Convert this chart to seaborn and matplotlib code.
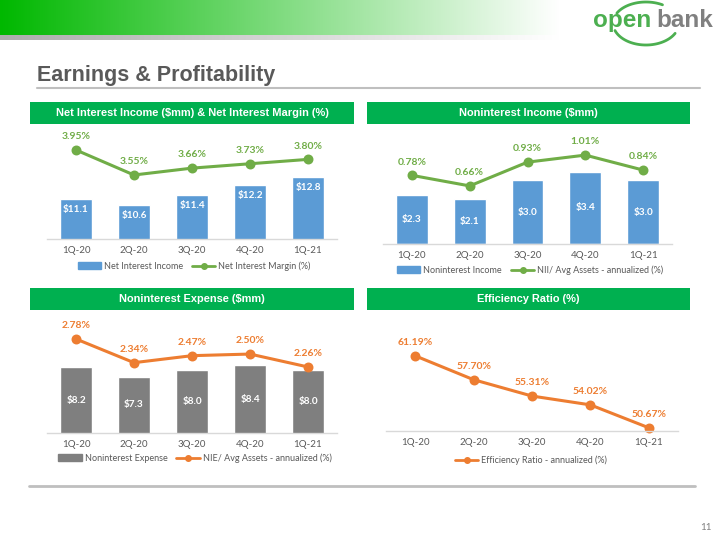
# ==========================================
# EARNINGS & PROFITABILITY SLIDE
# ==========================================

import numpy as np
import matplotlib.pyplot as plt
import seaborn as sns
from matplotlib.patches import Rectangle, Patch
from matplotlib.lines import Line2D
from matplotlib.colors import to_rgb

# ==========================================
# DATA
# ==========================================

quarters = ['1Q-20', '2Q-20', '3Q-20', '4Q-20', '1Q-21']

net_interest_income = [11.1, 10.6, 11.4, 12.2, 12.8]
net_interest_margin = [3.95, 3.55, 3.66, 3.73, 3.80]

noninterest_income = [2.3, 2.1, 3.0, 3.4, 3.0]
nii_avg_assets = [0.78, 0.66, 0.93, 1.01, 0.84]

noninterest_expense = [8.2, 7.3, 8.0, 8.4, 8.0]
nie_avg_assets = [2.78, 2.34, 2.47, 2.50, 2.26]

efficiency_ratio = [61.19, 57.70, 55.31, 54.02, 50.67]

# ==========================================
# STYLE
# ==========================================

sns.set_theme(style='white')
plt.rcParams['font.family'] = ['Lato', 'DejaVu Sans']

BLUE = '#5B9BD5'
GREEN = '#70AD47'
GRAY = '#7F7F7F'
ORANGE = '#ED7D31'
HEADER = '#00B050'
TEXT = '#595959'
LOGO_GREEN = '#4CAF50'

W, H = 720, 540

fig = plt.figure(figsize=(7.2, 5.4), dpi=100)


def box(x0, y0, x1, y1):
    # pixel box (top-left origin) -> figure rect
    return [x0 / W, 1 - y1 / H, (x1 - x0) / W, (y1 - y0) / H]


def fx(x):
    return x / W


def fy(y):
    return 1 - y / H


# ==========================================
# SLIDE DECORATION
# ==========================================

# green gradient banner
grad = np.linspace(0, 1, 256)
green = np.array(to_rgb('#00B800'))
banner = green[None, :] * (1 - grad[:, None]) + grad[:, None]
ax_band = fig.add_axes(box(0, 0, 560, 35))
ax_band.imshow(banner[None, :, :], aspect='auto')
ax_band.axis('off')

gray = np.array(to_rgb('#ADADAD'))
strip = gray[None, :] * (1 - grad[:, None]) + grad[:, None]
ax_strip = fig.add_axes(box(0, 35, 560, 40))
ax_strip.imshow(strip[None, :, :], aspect='auto')
ax_strip.axis('off')

# logo, drawn in pixel coords (y axis inverted)
logo_ax = fig.add_axes(box(585, 0, 720, 52))
logo_ax.set_xlim(585, 720)
logo_ax.set_ylim(52, 0)
logo_ax.axis('off')
t_top = np.radians(np.linspace(60, 152, 40))
t_bot = np.radians(np.linspace(200, 332, 50))
logo_ax.plot(646 + 33 * np.cos(t_top), 23 - 21 * np.sin(t_top),
             color=LOGO_GREEN, lw=2, solid_capstyle='round', clip_on=False)
logo_ax.plot(646 + 33 * np.cos(t_bot), 23 - 22 * np.sin(t_bot),
             color=LOGO_GREEN, lw=2, solid_capstyle='round', clip_on=False)
logo_ax.text(593, 27, 'open', fontsize=17.5, fontweight='bold',
             color=LOGO_GREEN, family='Liberation Sans', va='baseline',
             ha='left')
logo_ax.text(656, 27, 'bank', fontsize=17.5, fontweight='bold',
             color='#808080', family='Liberation Sans', va='baseline',
             ha='left')

# title
fig.text(fx(37), fy(75), 'Earnings & Profitability', fontsize=15.5,
         fontweight='bold', color=TEXT, family='Liberation Sans', va='center')
fig.add_artist(Line2D([fx(37), fx(700)], [fy(88), fy(88)],
                      color='#BFBFBF', lw=1.5))

# bottom line and page number
fig.add_artist(Line2D([fx(29), fx(695)], [fy(486), fy(486)],
                      color='#BFBFBF', lw=2))
fig.text(fx(706), fy(527), '11', fontsize=7, color=GRAY, ha='center', va='center')

# panel headers
headers = [
    ('Net Interest Income ($mm) & Net Interest Margin (%)', 30, 102, 354, 124),
    ('Noninterest Income ($mm)', 367, 102, 690, 124),
    ('Noninterest Expense ($mm)', 30, 288, 354, 310),
    ('Efficiency Ratio (%)', 367, 288, 690, 310),
]
for text, x0, y0, x1, y1 in headers:
    fig.add_artist(Rectangle((fx(x0), fy(y1)), fx(x1 - x0), (y1 - y0) / H,
                             transform=fig.transFigure, color=HEADER, lw=0))
    fig.text(fx((x0 + x1) / 2), fy((y0 + y1) / 2), text, color='white',
             fontsize=7.9, fontweight='bold', family='Liberation Sans',
             ha='center', va='center')


# ==========================================
# HELPERS
# ==========================================

def style_axes(ax):
    for side in ['top', 'right', 'left']:
        ax.spines[side].set_visible(False)
    ax.spines['bottom'].set_color('#D9D9D9')
    ax.spines['bottom'].set_linewidth(1)
    ax.set_yticks([])
    ax.set_xlabel('')
    ax.set_ylabel('')
    ax.tick_params(axis='x', length=0, pad=5, labelsize=7, labelcolor=TEXT)
    ax.set_xlim(-0.5, 4.5)
    ax.patch.set_alpha(0)


def draw_line(ax, values, color):
    sns.pointplot(x=quarters, y=values, ax=ax, color=color, markers='o',
                  markersize=5.5, linewidth=2.2)


def label_points(ax, values, color, fmt='{:.2f}%'):
    for i, v in enumerate(values):
        ax.annotate(fmt.format(v), (i, v), xytext=(0, 9.5),
                    textcoords='offset points', ha='center', va='center',
                    fontsize=7.5, fontweight='bold', color=color)


def label_bars(ax, values, inside_end=False):
    bottom = ax.get_ylim()[0]
    for i, v in enumerate(values):
        if inside_end:
            ax.annotate(f'${v:.1f}', (i, v), xytext=(0, -7.5),
                        textcoords='offset points', ha='center', va='center',
                        fontsize=7.2, fontweight='bold', color='white')
        else:
            ax.text(i, (bottom + v) / 2, f'${v:.1f}', ha='center',
                    va='center', fontsize=7.2, fontweight='bold', color='white')


def add_legend(ax, handles, labels, cx, cy):
    ax.legend(handles, labels, loc='center', ncol=len(handles),
              bbox_to_anchor=(fx(cx), fy(cy)), bbox_transform=fig.transFigure,
              frameon=False, fontsize=6.5, handlelength=2.6,
              handletextpad=0.3, columnspacing=1.0, labelcolor=TEXT)


def line_handle(color):
    return Line2D([], [], color=color, lw=2, marker='o', markersize=4)


# ==========================================
# PANEL 1 - NET INTEREST INCOME
# ==========================================

ax1 = fig.add_axes(box(47, 128, 337, 239))
sns.barplot(x=quarters, y=net_interest_income, ax=ax1, color=BLUE,
            width=0.55, saturation=1)
ax1.set_ylim(8.0, 16.58)
style_axes(ax1)
label_bars(ax1, net_interest_income, inside_end=True)

ax1b = ax1.twinx()
draw_line(ax1b, net_interest_margin, GREEN)
ax1b.set_ylim(2.526, 4.302)
style_axes(ax1b)
ax1b.spines['bottom'].set_visible(False)
label_points(ax1b, net_interest_margin, GREEN)

add_legend(ax1b, [Patch(color=BLUE), line_handle(GREEN)],
           ['Net Interest Income', 'Net Interest Margin (%)'], 194, 266)

# ==========================================
# PANEL 2 - NONINTEREST INCOME
# ==========================================

ax2 = fig.add_axes(box(383, 128, 672, 244))
sns.barplot(x=quarters, y=noninterest_income, ax=ax2, color=BLUE,
            width=0.55, saturation=1)
ax2.set_ylim(0, 5.446)
style_axes(ax2)
label_bars(ax2, noninterest_income)

ax2b = ax2.twinx()
draw_line(ax2b, nii_avg_assets, GREEN)
ax2b.set_ylim(0, 1.318)
style_axes(ax2b)
ax2b.spines['bottom'].set_visible(False)
label_points(ax2b, nii_avg_assets, GREEN)

add_legend(ax2b, [Patch(color=BLUE), line_handle(GREEN)],
           ['Noninterest Income', 'NII/ Avg Assets - annualized (%)'], 530, 270)

# ==========================================
# PANEL 3 - NONINTEREST EXPENSE
# ==========================================

ax3 = fig.add_axes(box(47, 318, 337, 433))
sns.barplot(x=quarters, y=noninterest_expense, ax=ax3, color=GRAY,
            width=0.55, saturation=1)
ax3.set_ylim(1.9, 12.96)
style_axes(ax3)
label_bars(ax3, noninterest_expense)

ax3b = ax3.twinx()
draw_line(ax3b, nie_avg_assets, ORANGE)
ax3b.set_ylim(1.033, 3.17)
style_axes(ax3b)
ax3b.spines['bottom'].set_visible(False)
label_points(ax3b, nie_avg_assets, ORANGE)

add_legend(ax3b, [Patch(color=GRAY), line_handle(ORANGE)],
           ['Noninterest Expense', 'NIE/ Avg Assets - annualized (%)'], 195, 458)

# ==========================================
# PANEL 4 - EFFICIENCY RATIO
# ==========================================

ax4 = fig.add_axes(box(386, 318, 678, 431))
draw_line(ax4, efficiency_ratio, ORANGE)
ax4.set_ylim(50.2, 66.72)
style_axes(ax4)
for line in ax4.lines:
    line.set_clip_on(False)
for coll in ax4.collections:
    coll.set_clip_on(False)
label_points(ax4, efficiency_ratio, ORANGE)

add_legend(ax4, [line_handle(ORANGE)],
           ['Efficiency Ratio - annualized (%)'], 531, 460)

plt.savefig('out.png', dpi=100)
